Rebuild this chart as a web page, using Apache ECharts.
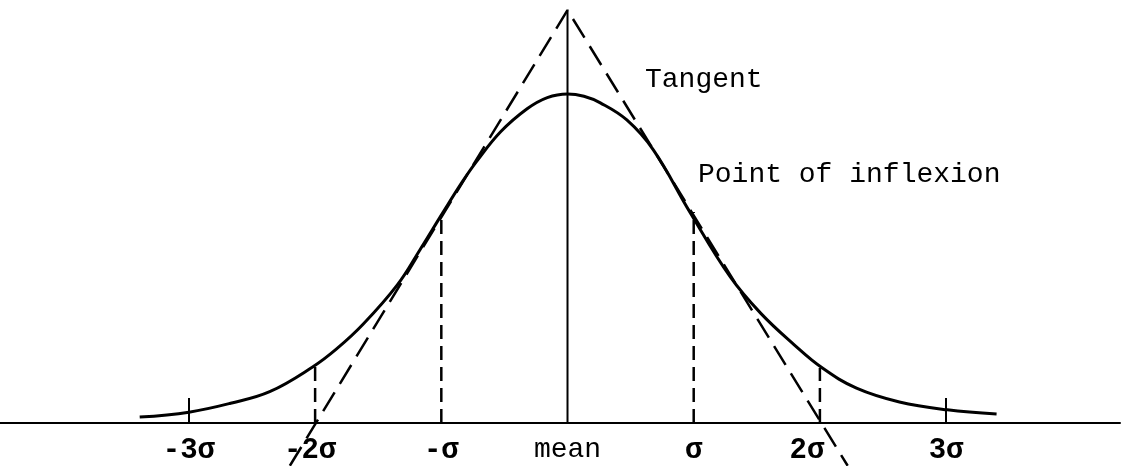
<!DOCTYPE html>
<html>
<head>
<meta charset="utf-8">
<script src="https://cdn.jsdelivr.net/npm/echarts@6/dist/echarts.min.js"></script>
<style>html,body{margin:0;padding:0;background:#fff}#c{width:1125px;height:466px}</style>
</head>
<body>
<div id="c"></div>
<script>
// x in units of sigma from the mean, y as height relative to the peak
const curveX = [-3.39,-3.00,-2.67,-2.36,-2.02,-1.83,-1.62,-1.35,-1.17,-0.99,-0.83,-0.72,-0.53,-0.32,-0.16,0,0.13,0.26,0.47,0.68,0.97,1.29,1.53,1.79,2.02,2.29,2.63,3.01,3.40];
const curveY = [0.018,0.033,0.060,0.095,0.170,0.225,0.300,0.419,0.526,0.638,0.735,0.795,0.885,0.955,0.989,1.0,0.993,0.973,0.921,0.830,0.641,0.444,0.334,0.240,0.167,0.106,0.064,0.040,0.027];
const tangentX = [-2.20, 0, 2.22];
const tangentY = [-0.130, 1.255, -0.130];
const dropX = [-2, -1, 1, 2];
const dropY = [0.170, 0.638, 0.641, 0.167];
const meanLineY = [0, 1.255];
const tickMarks = [-3, 3];
const tickValues = [-3, -2, -1, 0, 1, 2, 3];
const tickLabels = ['-3σ', '-2σ', '-σ', 'mean', 'σ', '2σ', '3σ'];

const chart = echarts.init(document.getElementById('c'));
const FONT = '"Liberation Mono", "DejaVu Sans Mono", monospace';
const series = [];
series.push({
  type: 'line', data: curveX.map((x, i) => [x, curveY[i]]), smooth: 0.4, showSymbol: false,
  lineStyle: { color: '#000', width: 3 }, z: 5
});
series.push({
  type: 'line', data: tangentX.map((x, i) => [x, tangentY[i]]), showSymbol: false, clip: false,
  lineStyle: { color: '#000', width: 2.5, type: [22, 10] }, z: 4
});
series.push({
  type: 'line', data: meanLineY.map(y => [0, y]), showSymbol: false,
  lineStyle: { color: '#000', width: 2 }, z: 4
});
dropX.forEach((x, i) => {
  series.push({
    type: 'line', data: [[x, 0], [x, dropY[i]]], showSymbol: false,
    lineStyle: { color: '#000', width: 2.5, type: [14, 7] }, z: 3
  });
});

chart.setOption({
  animation: false,
  grid: { left: 0, top: 0, width: 1120, height: 423, containLabel: false, outerBoundsMode: 'none' },
  xAxis: {
    type: 'value', min: -4.497, max: 4.378,
    axisLine: { onZero: false, lineStyle: { color: '#000', width: 2 } },
    splitLine: { show: false },
    axisTick: { show: true, customValues: tickMarks, inside: true, length: 25, lineStyle: { color: '#000', width: 2 } },
    axisLabel: {
      customValues: tickValues, margin: 13, color: '#000',
      formatter: v => {
        const i = tickValues.indexOf(Math.round(v));
        const t = tickLabels[i];
        if (t === 'mean') return '{m|' + t + '}';
        if (t === '2σ') return '{r|' + t + '}';
        if (t === '-2σ') return '{l|' + t + '}';
        return '{s|' + t + '}';
      },
      rich: {
        m: { fontFamily: FONT, fontSize: 28, color: '#000' },
        s: { fontFamily: FONT, fontSize: 29, fontWeight: 'bold', color: '#000' },
        r: { fontFamily: FONT, fontSize: 29, fontWeight: 'bold', color: '#000', padding: [0, 26, 0, 0] },
        l: { fontFamily: FONT, fontSize: 29, fontWeight: 'bold', color: '#000', padding: [0, 10, 0, 0] }
      }
    }
  },
  yAxis: { type: 'value', min: 0, max: 1.2857, show: false },
  graphic: [
    { type: 'text', x: 645, y: 80, style: { text: 'Tangent', font: '28px ' + FONT, fill: '#000', verticalAlign: 'middle' } },
    { type: 'text', x: 698, y: 175, style: { text: 'Point of inflexion', font: '28px ' + FONT, fill: '#000', verticalAlign: 'middle' } }
  ],
  series: series
});
</script>
</body>
</html>
